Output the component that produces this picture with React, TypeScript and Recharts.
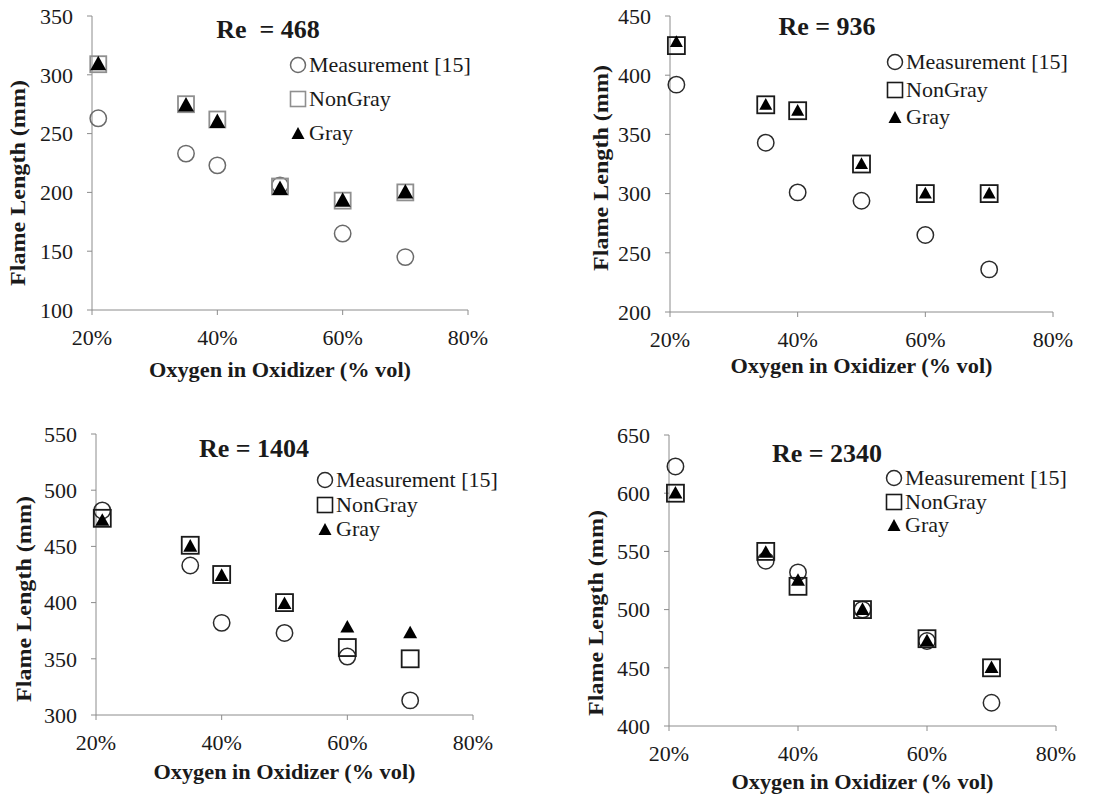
import React from "react";
import { ScatterChart, Scatter, XAxis, YAxis } from "recharts";

// oxygen fraction in the oxidizer (% vol), shared by every panel
const oxygen = [21, 35, 40, 50, 60, 70];
const xTicks = [20, 40, 60, 80];

// Re = 468
const measured468 = [263, 233, 223, 206, 165, 145];
const nonGray468 = [309, 275, 262, 205, 193, 200];
const gray468 = [309, 274, 260, 203, 193, 200];
const ticks468 = [100, 150, 200, 250, 300, 350];

// Re = 936
const measured936 = [392, 343, 301, 294, 265, 236];
const nonGray936 = [425, 375, 370, 325, 300, 300];
const gray936 = [428, 375, 370, 325, 300, 300];
const ticks936 = [200, 250, 300, 350, 400, 450];

// Re = 1404
const measured1404 = [482, 433, 382, 373, 352, 313];
const nonGray1404 = [475, 451, 425, 400, 360, 350];
const gray1404 = [473, 450, 424, 399, 378, 373];
const ticks1404 = [300, 350, 400, 450, 500, 550];

// Re = 2340
const measured2340 = [623, 542, 532, 500, 473, 420];
const nonGray2340 = [600, 550, 520, 500, 475, 450];
const gray2340 = [600, 549, 525, 500, 473, 450];
const ticks2340 = [400, 450, 500, 550, 600, 650];

const SERIF = "Liberation Serif";
const AXIS = "#8c8c8c";
const INK = "#1a1a1a";

const toPoints = (ys: number[]) => oxygen.map((x, i) => ({ x, y: ys[i] }));

type PanelSpec = {
  left: number;
  top: number;
  height: number;
  plot: { l: number; r: number; t: number; b: number };
  yTicks: number[];
  title: string;
  titleAt: [number, number];
  legendAt: [number, number];
  legendGap: number;
  yTitleAt: [number, number];
  xTitleDrop: number;
  measured: number[];
  nonGray: number[];
  gray: number[];
  ringColor: string;
  boxColor: string;
  boxSize: number;
  triSize: number;
};

const panels: PanelSpec[] = [
  {
    left: 0, top: 0, height: 400,
    plot: { l: 92, r: 468, t: 16, b: 310 },
    yTicks: ticks468,
    title: "Re  = 468", titleAt: [268, 30],
    legendAt: [298, 65], legendGap: 34,
    yTitleAt: [18, 183], xTitleDrop: 67,
    measured: measured468, nonGray: nonGray468, gray: gray468,
    ringColor: "#6a6a6a", boxColor: "#8f8f8f", boxSize: 16, triSize: 16,
  },
  {
    left: 560, top: 0, height: 400,
    plot: { l: 670, r: 1053, t: 16, b: 312 },
    yTicks: ticks936,
    title: "Re = 936", titleAt: [827, 27],
    legendAt: [895, 62], legendGap: 27.5,
    yTitleAt: [601, 168], xTitleDrop: 61,
    measured: measured936, nonGray: nonGray936, gray: gray936,
    ringColor: "#2a2a2a", boxColor: "#1a1a1a", boxSize: 17, triSize: 13,
  },
  {
    left: 0, top: 400, height: 399,
    plot: { l: 96, r: 473, t: 434, b: 715 },
    yTicks: ticks1404,
    title: "Re = 1404", titleAt: [254, 449],
    legendAt: [325, 480], legendGap: 24.5,
    yTitleAt: [24, 599], xTitleDrop: 64,
    measured: measured1404, nonGray: nonGray1404, gray: gray1404,
    ringColor: "#2a2a2a", boxColor: "#1a1a1a", boxSize: 17, triSize: 14,
  },
  {
    left: 560, top: 400, height: 399,
    plot: { l: 669, r: 1056, t: 435, b: 726 },
    yTicks: ticks2340,
    title: "Re = 2340", titleAt: [827, 454],
    legendAt: [894, 478], legendGap: 23.5,
    yTitleAt: [596, 613], xTitleDrop: 63,
    measured: measured2340, nonGray: nonGray2340, gray: gray2340,
    ringColor: "#2a2a2a", boxColor: "#1a1a1a", boxSize: 17, triSize: 14,
  },
];

const ring = (color: string) => (p: any) => (
  <circle cx={p.cx} cy={p.cy} r={8.2} fill="none" stroke={color} strokeWidth={1.5} />
);

const box = (color: string, size: number) => (p: any) => (
  <rect x={p.cx - size / 2} y={p.cy - size / 2} width={size} height={size} fill="none" stroke={color} strokeWidth={1.8} />
);

const tri = (size: number) => (p: any) => {
  const h = size * 0.9;
  return (
    <polygon
      points={`${p.cx},${p.cy - h * 0.58} ${p.cx + size / 2},${p.cy + h * 0.42} ${p.cx - size / 2},${p.cy + h * 0.42}`}
      fill="#000"
    />
  );
};

function LegendIcon({ kind, ringColor, boxColor }: { kind: string; ringColor: string; boxColor: string }) {
  return (
    <svg width={18} height={18} style={{ flex: "none" }}>
      {kind === "ring" && <circle cx={9} cy={9} r={7.5} fill="none" stroke={ringColor} strokeWidth={1.5} />}
      {kind === "box" && <rect x={1.5} y={1.5} width={15} height={15} fill="none" stroke={boxColor} strokeWidth={1.6} />}
      {kind === "tri" && <polygon points="9,3 15.5,15 2.5,15" fill="#000" />}
    </svg>
  );
}

function Panel({ spec }: { spec: PanelSpec }) {
  const { left, top, height, plot } = spec;
  const width = 560;
  const xAxisHeight = 70;
  const margin = {
    top: plot.t - top,
    right: left + width - plot.r,
    left: 0,
    bottom: top + height - plot.b - xAxisHeight,
  };
  const yDomain: [number, number] = [spec.yTicks[0], spec.yTicks[spec.yTicks.length - 1]];
  const tickStyle = { fill: INK, fontSize: 22, fontFamily: SERIF };

  const yTitle = () => {
    const x = spec.yTitleAt[0] - left;
    const y = spec.yTitleAt[1] - top;
    return (
      <text
        x={x}
        y={y}
        transform={`rotate(-90, ${x}, ${y})`}
        textAnchor="middle"
        dominantBaseline="central"
        fontFamily={SERIF}
        fontWeight="bold"
        fontSize={20}
        fill={INK}
        textLength={206}
        lengthAdjust="spacingAndGlyphs"
      >
        Flame Length (mm)
      </text>
    );
  };

  const xTitle = () => (
    <text
      x={(plot.l + plot.r) / 2 - left}
      y={plot.b - top + spec.xTitleDrop}
      textAnchor="middle"
      fontFamily={SERIF}
      fontWeight="bold"
      fontSize={20}
      fill={INK}
      textLength={262}
      lengthAdjust="spacingAndGlyphs"
    >
      Oxygen in Oxidizer (% vol)
    </text>
  );

  const legendRows = [
    { kind: "ring", label: "Measurement [15]" },
    { kind: "box", label: "NonGray" },
    { kind: "tri", label: "Gray" },
  ];

  return (
    <div style={{ position: "absolute", left, top, width, height }}>
      <ScatterChart width={width} height={height} margin={margin}>
        <XAxis
          type="number"
          dataKey="x"
          domain={[20, 80]}
          ticks={xTicks}
          tickFormatter={(v) => `${v}%`}
          height={xAxisHeight}
          axisLine={{ stroke: AXIS }}
          tickLine={{ stroke: AXIS }}
          tickSize={5}
          tickMargin={14}
          tick={tickStyle}
          label={xTitle}
        />
        <YAxis
          type="number"
          dataKey="y"
          domain={yDomain}
          ticks={spec.yTicks}
          width={plot.l - left}
          axisLine={{ stroke: AXIS }}
          tickLine={{ stroke: AXIS }}
          tickSize={5}
          tickMargin={14}
          tick={tickStyle}
          label={yTitle}
        />
        <Scatter name="Measurement [15]" data={toPoints(spec.measured)} shape={ring(spec.ringColor)} isAnimationActive={false} />
        <Scatter name="NonGray" data={toPoints(spec.nonGray)} shape={box(spec.boxColor, spec.boxSize)} isAnimationActive={false} />
        <Scatter name="Gray" data={toPoints(spec.gray)} shape={tri(spec.triSize)} isAnimationActive={false} />
      </ScatterChart>

      <div
        style={{
          position: "absolute",
          left: spec.titleAt[0] - left,
          top: spec.titleAt[1] - top,
          transform: "translate(-50%, -50%)",
          fontFamily: SERIF,
          fontWeight: "bold",
          fontSize: 26,
          lineHeight: 1,
          whiteSpace: "pre",
          color: INK,
        }}
      >
        {spec.title}
      </div>

      <div
        style={{
          position: "absolute",
          left: spec.legendAt[0] - left - 9,
          top: spec.legendAt[1] - top - spec.legendGap / 2,
          fontFamily: SERIF,
          fontSize: 22,
          color: INK,
        }}
      >
        {legendRows.map((row) => (
          <div key={row.kind} style={{ display: "flex", alignItems: "center", height: spec.legendGap, whiteSpace: "nowrap" }}>
            <LegendIcon kind={row.kind} ringColor={spec.ringColor} boxColor={spec.boxColor} />
            <span style={{ marginLeft: 2, lineHeight: 1 }}>{row.label}</span>
          </div>
        ))}
      </div>
    </div>
  );
}

export default function App() {
  return (
    <div style={{ position: "absolute", left: 0, top: 0, width: 1120, height: 799, background: "#fff", overflow: "hidden" }}>
      {panels.map((spec) => (
        <Panel key={spec.title} spec={spec} />
      ))}
    </div>
  );
}
